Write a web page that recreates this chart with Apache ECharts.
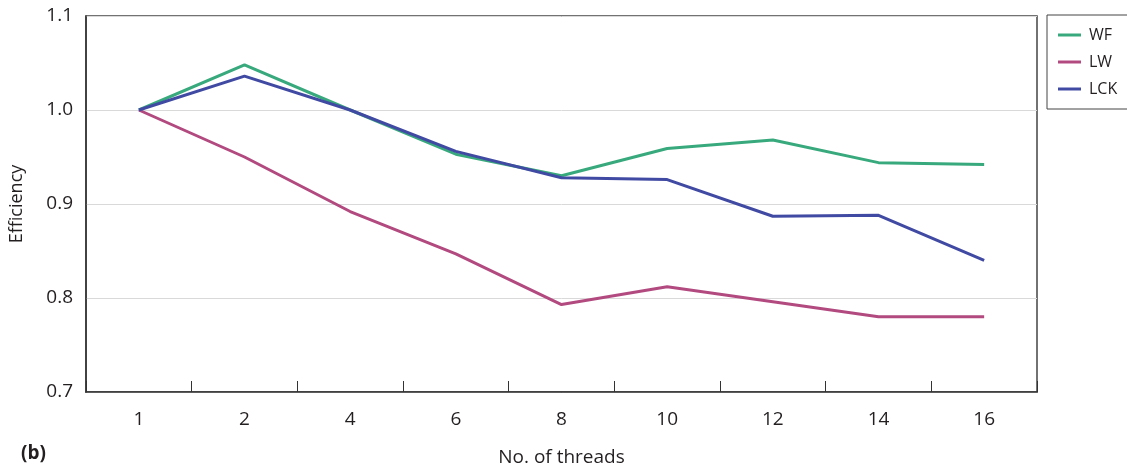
<!DOCTYPE html>
<html>
<head>
<meta charset="utf-8">
<script src="https://cdn.jsdelivr.net/npm/echarts@6/dist/echarts.min.js"></script>
<style>
  html, body { margin: 0; padding: 0; background: #fff; }
  #chart { width: 1127px; height: 468px; }
</style>
</head>
<body>
<div id="chart"></div>
<script>
const threads = ["1", "2", "4", "6", "8", "10", "12", "14", "16"];
const wf = [1.0, 1.048, 1.0, 0.953, 0.930, 0.959, 0.968, 0.944, 0.942];
const lw = [1.0, 0.950, 0.892, 0.847, 0.793, 0.812, 0.796, 0.780, 0.780];
const lck = [1.0, 1.036, 1.0, 0.956, 0.928, 0.926, 0.887, 0.888, 0.840];

const FONT = "Open Sans";
const TEXT = "#231f20";

const chart = echarts.init(document.getElementById("chart"));

const line = (name, data, color) => ({
  name,
  type: "line",
  data,
  showSymbol: false,
  symbol: "none",
  lineStyle: { color, width: 3 },
  itemStyle: { color },
});

chart.setOption({
  animation: false,
  textStyle: { fontFamily: FONT },
  title: {
    text: "(b)",
    left: 16,
    top: 439,
    textStyle: { fontFamily: FONT, fontSize: 19, fontWeight: "bold", color: TEXT },
  },
  grid: {
    left: 86, right: 90, top: 16, bottom: 76,
    outerBoundsMode: "none",
    show: true, borderColor: "#444", borderWidth: 1.5,
  },
  legend: {
    orient: "vertical",
    left: 1047,
    top: 15,
    width: 80,
    borderColor: "#444",
    borderWidth: 1,
    padding: [12, 14, 12, 11],
    itemGap: 11,
    icon: "rect",
    itemWidth: 23,
    itemHeight: 3,
    textStyle: { fontFamily: FONT, fontSize: 16, color: TEXT, padding: [0, 0, 0, 3] },
    data: ["WF", "LW", "LCK"],
  },
  xAxis: {
    type: "category",
    data: threads,
    boundaryGap: true,
    name: "No. of threads",
    nameLocation: "middle",
    nameGap: 56,
    nameTextStyle: { fontFamily: FONT, fontSize: 19, color: TEXT },
    axisLine: { lineStyle: { color: "#333", width: 1.5 } },
    axisTick: { show: true, inside: true, length: 11, alignWithLabel: false, lineStyle: { color: "#333" } },
    axisLabel: { fontFamily: FONT, fontSize: 19, color: TEXT, margin: 18 },
    splitLine: { show: false },
  },
  yAxis: {
    type: "value",
    min: 0.7,
    max: 1.1,
    interval: 0.1,
    name: "Efficiency",
    nameLocation: "middle",
    nameGap: 60,
    nameTextStyle: { fontFamily: FONT, fontSize: 18, color: TEXT },
    axisLine: { show: true, lineStyle: { color: "#333", width: 1.5 } },
    axisTick: { show: false },
    axisLabel: { fontFamily: FONT, fontSize: 19, color: TEXT, margin: 13, formatter: (v) => v.toFixed(1) },
    splitLine: { show: true, lineStyle: { color: "#d9d9d9", width: 1 } },
  },
  series: [
    line("WF", wf, "#38a97c"),
    line("LW", lw, "#b24a80"),
    line("LCK", lck, "#414aa3"),
  ],
});
</script>
</body>
</html>
